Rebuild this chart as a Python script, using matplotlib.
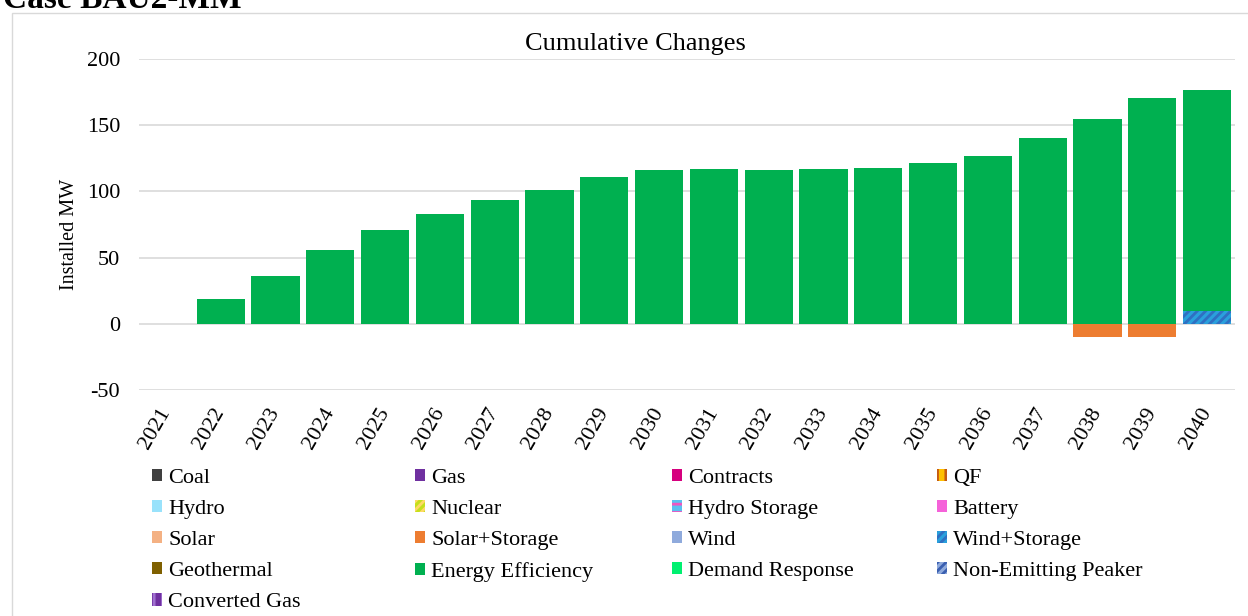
import matplotlib
matplotlib.use("Agg")
import matplotlib.pyplot as plt
from matplotlib.patches import Patch, Rectangle
import matplotlib.transforms as mtransforms
import numpy as np

plt.rcParams['font.family'] = ['Liberation Serif', 'DejaVu Serif']
plt.rcParams['hatch.linewidth'] = 2.0
plt.rcParams['axes.unicode_minus'] = False

years = [str(y) for y in range(2021, 2041)]

# Series values (MW, cumulative)
coal = [0]*20
gas = [0]*20
contracts = [0]*20
qf = [0]*20
hydro = [0]*20
nuclear = [0]*20
hydro_storage = [0]*20
battery = [0]*20
solar = [0]*20
solar_storage = [0, 0, 0, 0, 0, 0, 0, 0, 0, 0, 0, 0, 0, 0, 0, 0, 0, -10, -10, 0]
wind = [0]*20
wind_storage = [0, 0, 0, 0, 0, 0, 0, 0, 0, 0, 0, 0, 0, 0, 0, 0, 0, 0, 0, 9.5]
geothermal = [0]*20
energy_efficiency = [0, 18.4, 36.4, 55.5, 71.2, 83.0, 93.4, 100.7, 111.1, 116.1,
                     116.9, 116.4, 116.6, 117.6, 121.7, 126.5, 140.2, 154.7, 170.4, 167.1]
demand_response = [0]*20
non_emitting_peaker = [0]*20
converted_gas = [0]*20

# (label, values, facecolor, hatch, hatchcolor)
series = [
    ("Coal", coal, "#404040", None, None),
    ("Gas", gas, "#7030a0", None, None),
    ("Contracts", contracts, "#d6007e", None, None),
    ("QF", qf, "#ffc000", "||", "#c55a11"),
    ("Hydro", hydro, "#99e2fb", None, None),
    ("Nuclear", nuclear, "#c5e01b", "////", "#ffd966"),
    ("Hydro Storage", hydro_storage, "#5bc0f0", "--", "#f055c0"),
    ("Battery", battery, "#f562d9", None, None),
    ("Solar", solar, "#f4b183", None, None),
    ("Solar+Storage", solar_storage, "#ed7d31", None, None),
    ("Wind", wind, "#8faadc", None, None),
    ("Wind+Storage", wind_storage, "#2aa0dc", "////", "#2f6fc2"),
    ("Geothermal", geothermal, "#7f6000", None, None),
    ("Energy Efficiency", energy_efficiency, "#00b050", None, None),
    ("Demand Response", demand_response, "#00f070", None, None),
    ("Non-Emitting Peaker", non_emitting_peaker, "#8faadc", "////", "#3a5fb0"),
    ("Converted Gas", converted_gas, "#7030a0", "||", "#a070d0"),
]

fig = plt.figure(figsize=(12.48, 6.16), dpi=100)
W, H = 1248, 616

# chart border
fig.patches.append(Rectangle((12 / W, -0.01), 1.0, 1.01 - 13 / H, transform=fig.transFigure,
                             fill=False, edgecolor="#d9d9d9", linewidth=1.0))

fig.text(3 / W, 1 - 8.5 / H, "Case BAU2-MM", fontsize=24, fontweight="bold",
         ha="left", va="baseline")

ax = fig.add_axes([138.6 / W, 1 - 390 / H, (1234.5 - 138.6) / W, (390 - 59) / H])
x = np.arange(len(years))
pos_bottom = np.zeros(len(years))
neg_bottom = np.zeros(len(years))
for label, vals, fc, hatch, hc in series:
    v = np.array(vals, dtype=float)
    if not np.any(v):
        continue
    pos = np.where(v > 0, v, 0)
    neg = np.where(v < 0, v, 0)
    kw = dict(width=0.88, facecolor=fc, linewidth=0, zorder=3)
    if hatch:
        kw.update(hatch=hatch, edgecolor=hc)
    if np.any(pos):
        ax.bar(x, pos, bottom=pos_bottom, **kw)
        pos_bottom += pos
    if np.any(neg):
        ax.bar(x, neg, bottom=neg_bottom, **kw)
        neg_bottom += neg

ax.set_xlim(-0.5, len(years) - 0.5)
ax.set_ylim(-50, 200)
ax.set_yticks([-50, 0, 50, 100, 150, 200])
ax.yaxis.grid(True, color="#d9d9d9", linewidth=1.2, zorder=0)
ax.set_axisbelow(True)
for s in ax.spines.values():
    s.set_visible(False)
ax.tick_params(axis="both", length=0, labelsize=16)
ax.tick_params(axis="y", pad=13.4)
ax.set_xticks(x)
ax.set_xticklabels(years, rotation=60, ha="right", va="center", rotation_mode="anchor")
offset = mtransforms.ScaledTranslation(-3 / 100, 0, fig.dpi_scale_trans)
for lbl in ax.get_xticklabels():
    lbl.set_transform(lbl.get_transform() + offset)
ax.tick_params(axis="x", pad=14)
ax.set_ylabel("Installed MW", fontsize=14.5)
ax.yaxis.set_label_coords(-0.0544, 0.471)

fig.text(635 / W, 1 - 44 / H, "Cumulative Changes", fontsize=19, ha="center", va="center")

# legend: 4 columns
handles = []
for label, vals, fc, hatch, hc in series:
    if hatch:
        handles.append(Patch(facecolor=fc, hatch=hatch, edgecolor=hc, linewidth=0, label=label))
    else:
        handles.append(Patch(facecolor=fc, edgecolor="none", label=label))

col_x = [152, 415, 672, 937]
for c in range(4):
    hs = handles[c::4]
    fig.legend(handles=hs, labels=[h.get_label() for h in hs], loc="upper left",
               bbox_to_anchor=(col_x[c] / W, 1 - 469 / H), frameon=False,
               fontsize=16, handlelength=0.46, handleheight=0.46, handletextpad=0.27,
               labelspacing=0.545, borderpad=0, borderaxespad=0)

fig.savefig("out.png", dpi=100)
